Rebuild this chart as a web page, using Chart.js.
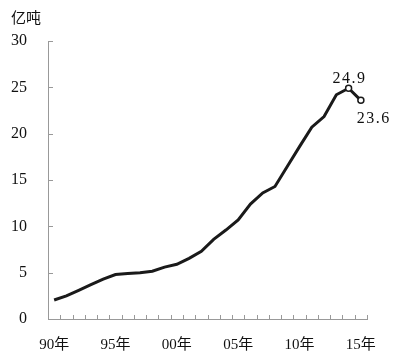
<!DOCTYPE html>
<html>
<head>
<meta charset="utf-8">
<script src="https://cdn.jsdelivr.net/npm/chart.js@4/dist/chart.umd.min.js"></script>
<style>
  html, body { margin: 0; padding: 0; background: #fff; }
  #wrap { width: 400px; height: 362px; position: relative; }
</style>
</head>
<body>
<div id="wrap"><canvas id="myChart"></canvas></div>
<script>
var years = ['1990','1991','1992','1993','1994','1995','1996','1997','1998','1999',
             '2000','2001','2002','2003','2004','2005','2006','2007','2008','2009',
             '2010','2011','2012','2013','2014','2015'];
var xLabels = {'1990': '90年', '1995': '95年', '2000': '00年', '2005': '05年', '2010': '10年', '2015': '15年'};
var output = [2.05, 2.5, 3.1, 3.7, 4.3, 4.8, 4.9, 5.0, 5.15, 5.6,
              5.9, 6.55, 7.3, 8.6, 9.6, 10.7, 12.4, 13.6, 14.3, 16.45,
              18.6, 20.7, 21.85, 24.2, 24.9, 23.6];
var yTicks = [0, 5, 10, 15, 20, 25, 30];
var unitLabel = '亿吨';

var serif = '"Liberation Serif", "DejaVu Serif", serif';
var cjk = '"Noto Sans CJK SC", sans-serif';

// ticks pointing inward, plus unit label and the two value labels
var decor = {
    id: 'decor',
    afterDraw: function(chart) {
        var c = chart.ctx, x = chart.scales.x, y = chart.scales.y;
        var area = chart.chartArea;
        c.save();
        c.strokeStyle = '#999';
        c.lineWidth = 1;
        c.beginPath();
        yTicks.forEach(function(v) {
            var py = Math.round(y.getPixelForValue(v)) + 0.5;
            c.moveTo(area.left, py);
            c.lineTo(area.left + 5, py);
        });
        for (var i = 0; i <= years.length; i++) {
            var px = Math.round(area.left + (area.right - area.left) * i / years.length) + 0.5;
            c.moveTo(px, area.bottom);
            c.lineTo(px, area.bottom - 4);
        }
        c.stroke();

        c.fillStyle = '#111';
        c.font = '15px ' + cjk;
        c.textBaseline = 'middle';
        c.textAlign = 'left';
        c.fillText(unitLabel, 11, 17);

        var pts = chart.getDatasetMeta(0).data;
        var n = pts.length;
        c.font = '16px ' + serif;
        c.letterSpacing = '1.5px';
        c.textAlign = 'center';
        c.fillText(output[n - 2].toFixed(1), pts[n - 2].x + 1, pts[n - 2].y - 9);
        c.fillText(output[n - 1].toFixed(1), pts[n - 1].x + 13, pts[n - 1].y + 18);
        c.restore();
    }
};

var ctx = document.getElementById('myChart').getContext('2d');
var myChart = new Chart(ctx, {
    type: 'line',
    data: {
        labels: years,
        datasets: [{
            data: output,
            borderColor: '#1a1a1a',
            borderWidth: 3,
            tension: 0,
            pointRadius: output.map(function(v, i) { return i >= output.length - 2 ? 3 : 0; }),
            pointBackgroundColor: '#fff',
            pointBorderColor: '#1a1a1a',
            pointBorderWidth: 1.5
        }]
    },
    options: {
        responsive: true,
        maintainAspectRatio: false,
        animation: false,
        layout: { padding: { left: 0, right: 33, top: 41, bottom: 0 } },
        plugins: { legend: { display: false }, tooltip: { enabled: false } },
        scales: {
            x: {
                offset: true,
                grid: { display: false, drawTicks: false },
                border: { display: true, color: '#999', width: 1 },
                afterFit: function(s) { s.height = 43; },
                ticks: {
                    autoSkip: false,
                    maxRotation: 0,
                    padding: 17,
                    color: '#111',
                    font: { family: serif + ', ' + cjk, size: 15 },
                    callback: function(v, i) { return xLabels[years[i]] || ''; }
                }
            },
            y: {
                min: 0,
                max: 30,
                grid: { display: false, drawTicks: false },
                border: { display: true, color: '#999', width: 1 },
                afterFit: function(s) { s.width = 48; },
                afterBuildTicks: function(s) { s.ticks = yTicks.map(function(v) { return { value: v }; }); },
                ticks: {
                    padding: 21,
                    color: '#111',
                    font: { family: serif, size: 16 }
                }
            }
        }
    },
    plugins: [decor]
});
</script>
</body>
</html>
